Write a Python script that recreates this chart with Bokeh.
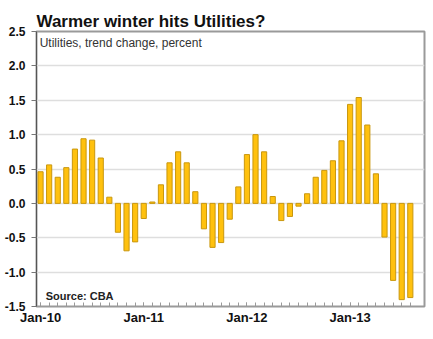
from bokeh.plotting import figure
from bokeh.models import ColumnDataSource, FixedTicker, Label, Range1d
from bokeh.embed import file_html
from bokeh.resources import INLINE

months = ["Jan-10","Feb-10","Mar-10","Apr-10","May-10","Jun-10","Jul-10","Aug-10","Sep-10","Oct-10","Nov-10","Dec-10",
          "Jan-11","Feb-11","Mar-11","Apr-11","May-11","Jun-11","Jul-11","Aug-11","Sep-11","Oct-11","Nov-11","Dec-11",
          "Jan-12","Feb-12","Mar-12","Apr-12","May-12","Jun-12","Jul-12","Aug-12","Sep-12","Oct-12","Nov-12","Dec-12",
          "Jan-13","Feb-13","Mar-13","Apr-13","May-13","Jun-13","Jul-13","Aug-13"]
values = [0.46, 0.56, 0.38, 0.52, 0.79, 0.94, 0.92, 0.66, 0.09, -0.42, -0.69, -0.56,
          -0.22, 0.02, 0.27, 0.59, 0.75, 0.59, 0.17, -0.37, -0.64, -0.57, -0.23, 0.24,
          0.71, 1.00, 0.75, 0.10, -0.25, -0.19, -0.04, 0.14, 0.38, 0.48, 0.62, 0.91,
          1.44, 1.54, 1.14, 0.43, -0.49, -1.12, -1.40, -1.37]
tick_labels = ["Jan-10", "Jan-11", "Jan-12", "Jan-13"]
y_ticks = [-1.5, -1.0, -0.5, 0.0, 0.5, 1.0, 1.5, 2.0, 2.5]

idx = list(range(len(months)))
src = ColumnDataSource(dict(x=idx, v=values, m=months))

FONT = "Liberation Sans"

p = figure(width=433, height=339, output_backend="svg", toolbar_location=None,
           x_range=Range1d(-0.47, 44.65), y_range=Range1d(-1.5, 2.5),
           min_border_left=36, min_border_right=9, min_border_top=31, min_border_bottom=33)
p.background_fill_color = "white"
p.border_fill_color = "white"
p.outline_line_color = "#9a9a9a"
p.outline_line_width = 2

p.vbar(x="x", top="v", bottom=0, width=0.6, source=src,
       fill_color="#FFC10E", line_color="#C9970E", line_width=1)

# title
p.title.text = "Warmer winter hits Utilities?"
p.title.text_font = FONT
p.title.text_font_size = "17px"
p.title.text_font_style = "bold"
p.title.text_color = "#111111"
p.title.align = "left"
p.title.offset = 0
p.title.standoff = 2

# x axis
p.xaxis.ticker = FixedTicker(ticks=[idx[months.index(t)] for t in tick_labels], minor_ticks=idx)
p.xaxis.major_label_overrides = {idx[months.index(t)]: t for t in tick_labels}
p.xaxis.major_label_text_font = FONT
p.xaxis.major_label_text_font_style = "bold"
p.xaxis.major_label_text_font_size = "13px"
p.xaxis.major_label_text_color = "#111111"
p.xaxis.major_label_standoff = 3
p.xaxis.major_tick_in = 4
p.xaxis.major_tick_out = 0
p.xaxis.minor_tick_in = 4
p.xaxis.minor_tick_out = 0
p.xaxis.axis_line_color = "#9a9a9a"
p.xaxis.major_tick_line_color = "#9a9a9a"
p.xaxis.minor_tick_line_color = "#9a9a9a"

# y axis
p.yaxis.ticker = FixedTicker(ticks=y_ticks)
p.yaxis.major_label_overrides = {t: f"{t:.1f}" for t in y_ticks}
p.yaxis.major_label_text_font = FONT
p.yaxis.major_label_text_font_style = "bold"
p.yaxis.major_label_text_font_size = "12px"
p.yaxis.major_label_text_color = "#111111"
p.yaxis.major_label_standoff = 6
p.yaxis.major_tick_in = 0
p.yaxis.major_tick_out = 5
p.yaxis.minor_tick_line_color = None
p.yaxis.axis_line_color = "#555555"
p.yaxis.major_tick_line_color = "#777777"

p.xgrid.grid_line_color = None
p.ygrid.grid_line_color = "#dedede"
p.ygrid.grid_line_width = 1.5

p.add_layout(Label(x=-0.1, y=2.44, text="Utilities, trend change, percent",
                   text_font=FONT, text_font_size="12px", text_color="#333333",
                   text_baseline="top", text_align="left"))
p.add_layout(Label(x=0.6, y=-1.34, text="Source: CBA",
                   text_font=FONT, text_font_size="11px", text_font_style="bold",
                   text_color="#222222", text_baseline="alphabetic", text_align="left"))

open("out.html", "w").write(file_html(p, INLINE))
